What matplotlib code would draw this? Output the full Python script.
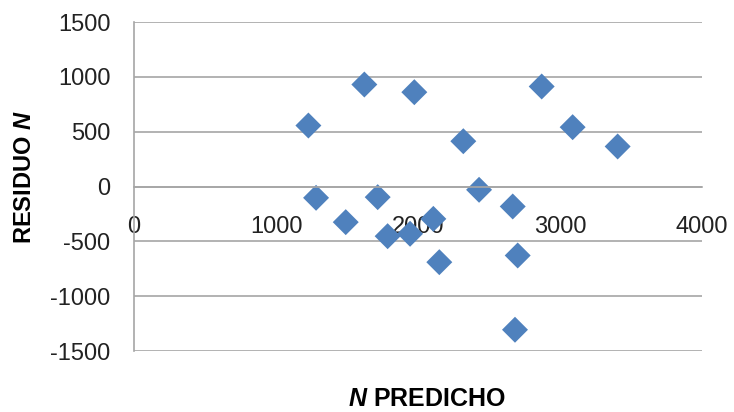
import numpy as np
import matplotlib.pyplot as plt

n_predicho = [1228, 1622, 1974, 2871, 3089, 3406, 2319, 1282, 1716,
              1491, 1786, 1944, 2108, 2150, 2430, 2667, 2702, 2683]
residuo = [556, 930, 860, 912, 541, 365, 413, -103, -97,
           -325, -453, -431, -295, -690, -30, -182, -629, -1306]

x_ticks = [0, 1000, 2000, 3000, 4000]
y_ticks = [-1500, -1000, -500, 0, 500, 1000, 1500]

plt.rcParams['font.family'] = ['Liberation Sans', 'DejaVu Sans']
plt.rcParams['axes.unicode_minus'] = False
plt.rcParams['mathtext.fontset'] = 'custom'
plt.rcParams['mathtext.it'] = 'Liberation Sans:bold:italic'
plt.rcParams['mathtext.rm'] = 'Liberation Sans:bold'

fig = plt.figure(figsize=(7.34, 4.12), dpi=100)
ax = fig.add_axes([0.1826, 0.148, 0.7738, 0.7986])

ax.scatter(n_predicho, residuo, marker='D', s=175, color='#4F81BD',
           edgecolors='none', zorder=1)

ax.set_xlim(0, 4000)
ax.set_ylim(-1500, 1500)
ax.set_xticks(x_ticks)
ax.set_yticks(y_ticks)

gris = '#A6A6A6'
ax.grid(axis='y', color=gris, linewidth=1.2)
ax.set_axisbelow(True)
ax.spines['top'].set_visible(False)
ax.spines['right'].set_visible(False)
ax.spines['bottom'].set_position(('data', 0))
ax.spines['bottom'].set_color(gris)
ax.spines['left'].set_color(gris)
ax.spines['bottom'].set_linewidth(1.2)
ax.spines['left'].set_linewidth(1.2)

ax.tick_params(axis='both', length=0, labelsize=17, colors='#222222')
ax.tick_params(axis='y', pad=17)
ax.tick_params(axis='x', pad=21)

fig.text(0.582, 0.032, r'$N$ PREDICHO', fontsize=18, fontweight='bold',
         ha='center', va='center')
fig.text(0.033, 0.57, r'RESIDUO $N$', fontsize=17, fontweight='bold',
         rotation=90, ha='center', va='center')

fig.savefig('out.png', dpi=100)
